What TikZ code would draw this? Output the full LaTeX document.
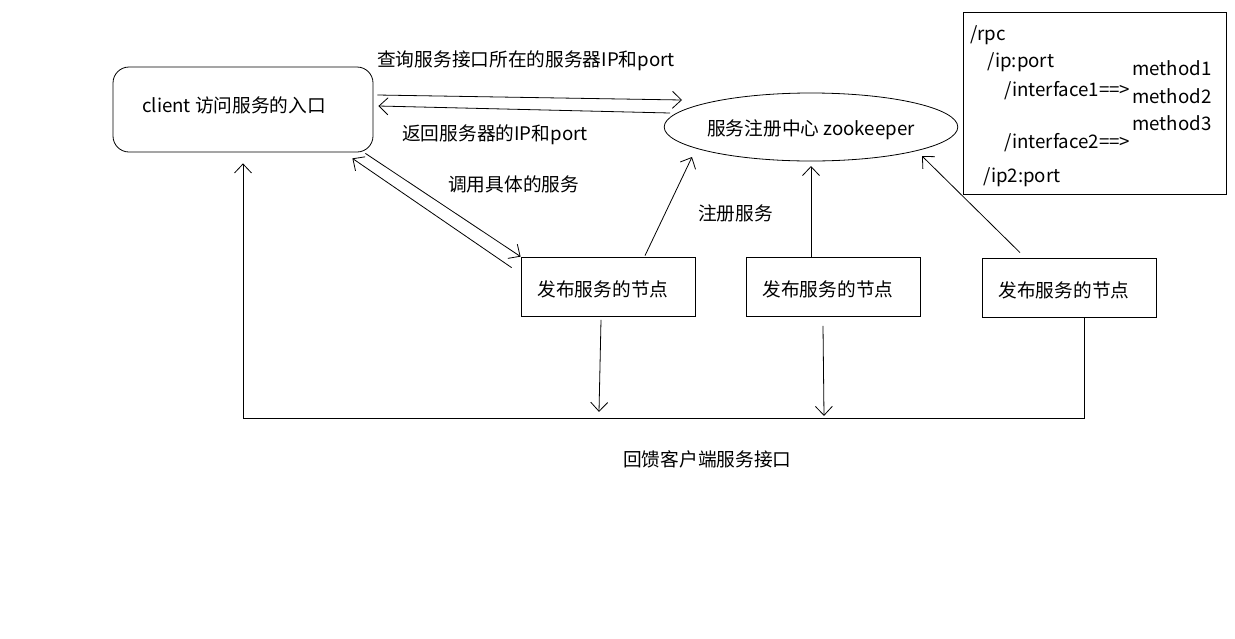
\documentclass[tikz,border=0pt]{standalone}
\usepackage{fontspec}
\setmainfont{Noto Sans CJK SC}
\usetikzlibrary{shapes.geometric,arrows.meta,calc}
\begin{document}
\begin{tikzpicture}[x=1pt,y=-1pt,
  txt/.style={font=\fontsize{18.7}{22}\selectfont, inner sep=0, anchor=base west},
  conn/.style={line width=0.8pt, -{Straight Barb[length=9pt,width=17pt]}},
  nodebox/.style={draw, line width=0.8pt, minimum width=174pt, minimum height=59pt, inner sep=0,
    font=\fontsize{18.7}{22}\selectfont, text height=19pt, text depth=0pt}]
\useasboundingbox[fill=white] (0,0) rectangle (1235,638);
% main nodes
\node[draw, line width=0.8pt, rounded corners=16pt, minimum width=260pt, minimum height=85pt, inner sep=0] (client) at (243,109.5) {};
\node[txt] (clienttxt) at (142,112) {client 访问服务的入口};
\node[draw, ellipse, line width=0.8pt, minimum width=284pt, minimum height=68pt, inner sep=0,
  font=\fontsize{18.7}{22}\selectfont, text height=16pt, text depth=0pt] (zk) at (811,127) {服务注册中心 zookeeper};
\node[nodebox] (n1) at (608,286.5) {\hspace*{-10pt}发布服务的节点};
\node[nodebox] (n2) at (833,286.5) {\hspace*{-10pt}发布服务的节点};
\node[nodebox] (n3) at (1069,287.5) {\hspace*{-10pt}发布服务的节点};
% rpc box
\node[draw, line width=0.8pt, minimum width=263pt, minimum height=182pt, inner sep=0] (rpc) at (1094.5,103) {};
\node[txt] (r1) at (970,40) {/rpc};
\node[txt] (r2) at (987,67) {/ip:port};
\node[txt] (r3) at (1004,96) {/interface1==>};
\node[txt] (r4) at (1132,75) {method1};
\node[txt] (r5) at (1132,103) {method2};
\node[txt] (r6) at (1132,130) {method3};
\node[txt] (r7) at (1004,148) {/interface2==>};
\node[txt] (r8) at (983,182) {/ip2:port};
% labels
\node[txt] (l1) at (377,66) {查询服务接口所在的服务器IP和port};
\node[txt] (l2) at (402,140) {返回服务器的IP和port};
\node[txt] (l3) at (448,191) {调用具体的服务};
\node[txt] (l4) at (698,220) {注册服务};
\node[txt] (l5) at (623,466) {回馈客户端服务接口};
% connectors
\draw[conn] ($(client.east)+(4,-14.5)$) -- ($(zk.center)+(-129,-27)$);
\draw[conn] ($(zk.center)+(-141,-14)$) -- ($(client.east)+(5,-3.5)$);
\draw[conn] ($(client.south east)+(-8,1)$) -- (n1.north west);
\draw[conn] ($(n1.north west)+(-9,11)$) -- ($(client.south east)+(-21,6)$);
\draw[conn] ($(n1.north)+(37,-1)$) -- ($(zk.center)+(-119,30)$);
\draw[conn] ($(n2.north)+(-22,0)$) -- ($(zk.center)+(0,39)$);
\draw[conn] ($(n3.north)+(-49,-5)$) -- ($(zk.center)+(111,29)$);
\coordinate (bl) at ($(client.south)+(0,266)$);
\draw[conn] ($(n1.south)+(-7,3.5)$) -- ($(n1.south)+(-9,95.5)$);
\draw[conn] ($(n2.south)+(-10,9.5)$) -- ($(n2.south)+(-9,99.5)$);
\draw[conn] ($(n3.south)+(15,1)$) |- (bl) -- ($(client.south)+(0,11)$);
\end{tikzpicture}
\end{document}
